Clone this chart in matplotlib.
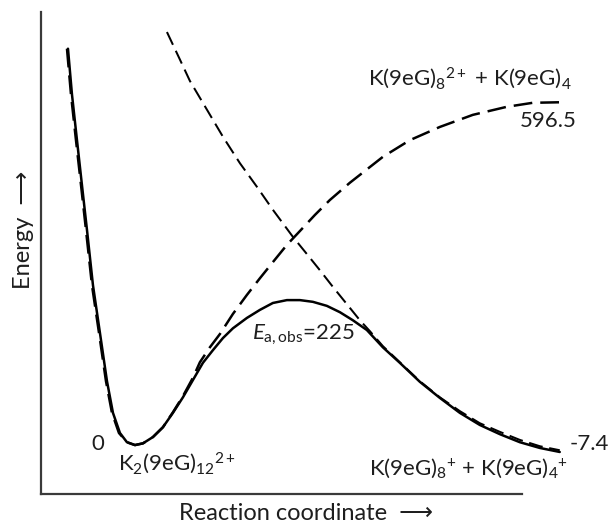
import matplotlib
matplotlib.use('Agg')
import matplotlib.pyplot as plt

plt.rcParams['font.family'] = ['Lato', 'DejaVu Sans']
plt.rcParams['mathtext.fontset'] = 'custom'
plt.rcParams['mathtext.rm'] = 'Lato'
plt.rcParams['mathtext.it'] = 'Lato:italic'

# observed (solid) potential energy curve
obs_rc = [0.483, 0.555, 0.644, 0.733, 0.823, 0.930, 1.055, 1.181, 1.288, 1.413,
          1.538, 1.682, 1.825, 2.004, 2.182, 2.361, 2.540, 2.719, 2.898, 3.077,
          3.256, 3.435, 3.685, 3.918, 4.150, 4.401, 4.633, 4.866, 5.116, 5.349,
          5.581, 5.832, 6.118, 6.422, 6.780, 7.138, 7.496, 7.853, 8.211, 8.569,
          8.927, 9.284]
obs_e = [689, 609, 530, 452, 374, 278, 195, 111, 56, 21,
         5, 0, 3, 14, 31, 56, 83, 113, 143, 165,
         186, 203, 221, 235, 247, 252, 252, 249, 242, 231,
         217, 200, 170, 143, 110, 82, 56, 35, 19, 5,
         -5, -12]

# bound curve -> K(9eG)8 2+ + K(9eG)4
bound_rc = [0.465, 0.537, 0.626, 0.716, 0.805, 0.912, 1.038, 1.163, 1.270, 1.395,
            1.538, 1.682, 1.825, 2.004, 2.182, 2.361, 2.540, 2.719, 2.844, 3.023,
            3.202, 3.435, 3.685, 3.918, 4.150, 4.401, 4.633, 4.902, 5.170, 5.528,
            6.118, 6.601, 7.138, 7.728, 8.336, 8.801, 9.338]
bound_e = [689, 609, 530, 452, 374, 278, 195, 111, 56, 21,
           5, 0, 3, 14, 31, 57, 85, 117, 144, 170,
           193, 228, 261, 290, 318, 348, 372, 400, 426, 456,
           501, 530, 553, 574, 588, 595, 596]

# repulsive curve -> K(9eG)8+ + K(9eG)4+
rep_rc = [2.254, 2.487, 2.665, 2.970, 3.256, 3.560, 3.864, 4.150, 4.508, 4.759,
          4.991, 5.224, 5.474, 5.707, 5.886, 6.118, 6.422, 6.780, 7.138, 7.496,
          7.853, 8.211, 8.569, 8.927, 9.284]
rep_e = [718, 670, 633, 583, 536, 490, 449, 409, 362, 332,
         304, 275, 245, 217, 198, 172, 144, 111, 83, 59,
         38, 23, 9, -2, -9]

fig = plt.figure(figsize=(6.1, 5.24), dpi=100)
ax = fig.add_axes([0.0672, 0.0573, 0.916, 0.92])

ax.plot(rep_rc, rep_e, color='black', lw=1.45, dashes=(7, 3.3))
ax.plot(bound_rc, bound_e, color='black', lw=1.8, dashes=(7.5, 3.2))
ax.plot(obs_rc, obs_e, color='black', lw=1.8, solid_capstyle='round', solid_joinstyle='round')

ax.set_xlim(0, 10)
ax.set_ylim(-85, 753)
for s in ['top', 'right']:
    ax.spines[s].set_visible(False)
for s in ['left', 'bottom']:
    ax.spines[s].set_linewidth(1.6)
    ax.spines[s].set_color('#3a3a3a')
ax.spines['bottom'].set_bounds(0, 8.6)
ax.set_xticks([])
ax.set_yticks([])

fs = 16
tc = '#1e1e1e'
ax.text(9.5, 626, r'K(9eG)$_8$$^{2+}$ + K(9eG)$_4$', ha='right', va='baseline', fontsize=fs, color=tc)
ax.text(9.59, 553, '596.5', ha='right', va='baseline', fontsize=fs, color=tc)
ax.text(3.775, 183, r'$E_{\mathrm{a,obs}}$=225', ha='left', va='baseline', fontsize=fs, color=tc)
ax.text(1.02, -9, '0', ha='center', va='baseline', fontsize=fs, color=tc)
ax.text(1.38, -43, r'K$_2$(9eG)$_{12}$$^{2+}$', ha='left', va='baseline', fontsize=fs, color=tc)
ax.text(9.46, -9, '-7.4', ha='left', va='baseline', fontsize=fs, color=tc)
ax.text(9.43, -52, r'K(9eG)$_8$$^{+}$ + K(9eG)$_4$$^{+}$', ha='right', va='baseline', fontsize=fs, color=tc)

fig.text(306 / 610, 1 - 520 / 524, 'Reaction coordinate  \u27f6', ha='center', va='baseline', fontsize=17, color=tc)
fig.text(23 / 610, 1 - 230 / 524, 'Energy  \u27f6', ha='center', va='center', rotation=90, fontsize=17, color=tc)

fig.savefig('out.png', dpi=100)
